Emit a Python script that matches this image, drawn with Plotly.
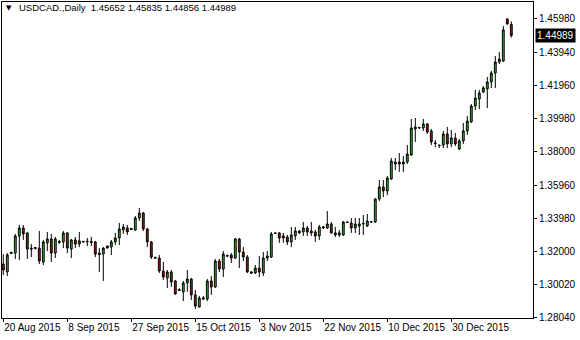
import plotly.graph_objects as go

symbol_title = "USDCAD.,Daily  1.45652 1.45835 1.44856 1.44989"
last_price = 1.44989

date_labels = ["20 Aug 2015", "8 Sep 2015", "27 Sep 2015", "15 Oct 2015",
               "3 Nov 2015", "22 Nov 2015", "10 Dec 2015", "30 Dec 2015"]
date_label_bars = [0, 16, 32, 48, 64, 80, 96, 112]

price_ticks = [1.28040, 1.30020, 1.32000, 1.33980, 1.35960,
               1.38000, 1.39980, 1.41960, 1.43940, 1.45980]
price_tick_text = ["1.28040", "1.30020", "1.32000", "1.33980", "1.35960",
                   "1.38000", "1.39980", "1.41960", "1.43940", "1.45980"]

opens = [1.3123, 1.3075, 1.3186, 1.3189, 1.3292, 1.3340, 1.3310, 1.3219, 1.3216, 1.3219,
         1.3135, 1.3250, 1.3274, 1.3189, 1.3259, 1.3256, 1.3310, 1.3213, 1.3268, 1.3243,
         1.3259, 1.3256, 1.3259, 1.3256, 1.3189, 1.3183, 1.3231, 1.3225, 1.3256, 1.3280,
         1.3328, 1.3340, 1.3331, 1.3328, 1.3400, 1.3430, 1.3334, 1.3256, 1.3162, 1.3159,
         1.3081, 1.3039, 1.3075, 1.3021, 1.2970, 1.2955, 1.3009, 1.3033, 1.2937, 1.2864,
         1.2912, 1.2912, 1.3021, 1.2985, 1.3141, 1.3093, 1.3174, 1.3177, 1.3159, 1.3274,
         1.3195, 1.3165, 1.3075, 1.3069, 1.3099, 1.3069, 1.3159, 1.3165, 1.3310, 1.3310,
         1.3292, 1.3286, 1.3256, 1.3292, 1.3310, 1.3316, 1.3340, 1.3322, 1.3316, 1.3292,
         1.3340, 1.3340, 1.3364, 1.3310, 1.3298, 1.3298, 1.3376, 1.3370, 1.3340, 1.3352,
         1.3364, 1.3352, 1.3379, 1.3376, 1.3514, 1.3587, 1.3563, 1.3635, 1.3725, 1.3737,
         1.3725, 1.3737, 1.3779, 1.3936, 1.3942, 1.3942, 1.3966, 1.3924, 1.3852, 1.3839,
         1.3839, 1.3906, 1.3846, 1.3882, 1.3815, 1.3864, 1.3924, 1.3978, 1.4074, 1.4116,
         1.4158, 1.4177, 1.4219, 1.4273, 1.4339, 1.4345, 1.4598, 1.45652]
highs = [1.3183, 1.3189, 1.3198, 1.3304, 1.3358, 1.3358, 1.3316, 1.3243, 1.3225, 1.3322,
         1.3268, 1.3316, 1.3304, 1.3286, 1.3268, 1.3322, 1.3316, 1.3274, 1.3286, 1.3316,
         1.3262, 1.3280, 1.3286, 1.3262, 1.3219, 1.3225, 1.3234, 1.3268, 1.3310, 1.3370,
         1.3364, 1.3358, 1.3340, 1.3412, 1.3460, 1.3436, 1.3340, 1.3262, 1.3168, 1.3177,
         1.3135, 1.3087, 1.3087, 1.3027, 1.2976, 1.3021, 1.3087, 1.3039, 1.2967, 1.2931,
         1.2931, 1.3033, 1.3051, 1.3153, 1.3153, 1.3201, 1.3180, 1.3189, 1.3280, 1.3280,
         1.3225, 1.3177, 1.3081, 1.3117, 1.3171, 1.3195, 1.3201, 1.3316, 1.3313, 1.3316,
         1.3310, 1.3298, 1.3346, 1.3346, 1.3328, 1.3376, 1.3352, 1.3376, 1.3328, 1.3358,
         1.3352, 1.3442, 1.3376, 1.3346, 1.3328, 1.3382, 1.3382, 1.3400, 1.3400, 1.3400,
         1.3418, 1.3424, 1.3382, 1.3520, 1.3629, 1.3629, 1.3653, 1.3761, 1.3761, 1.3791,
         1.3773, 1.3839, 1.3996, 1.4002, 1.3948, 1.3996, 1.3972, 1.3936, 1.3870, 1.3842,
         1.3924, 1.3948, 1.3930, 1.3912, 1.3876, 1.3972, 1.4014, 1.4086, 1.4171, 1.4171,
         1.4195, 1.4249, 1.4285, 1.4375, 1.4399, 1.4556, 1.4602, 1.45835]
lows = [1.3057, 1.3051, 1.3183, 1.3153, 1.3147, 1.3268, 1.3153, 1.3165, 1.3210, 1.3123,
        1.3117, 1.3201, 1.3135, 1.3159, 1.3244, 1.3219, 1.3189, 1.3159, 1.3219, 1.3225,
        1.3253, 1.3231, 1.3231, 1.3165, 1.3075, 1.3021, 1.3216, 1.3177, 1.3237, 1.3237,
        1.3304, 1.3298, 1.3328, 1.3322, 1.3382, 1.3322, 1.3225, 1.3153, 1.3153, 1.3069,
        1.3027, 1.2979, 1.2985, 1.2937, 1.2961, 1.2900, 1.2955, 1.2906, 1.2852, 1.2861,
        1.2906, 1.2900, 1.2937, 1.2979, 1.3075, 1.3045, 1.3165, 1.3129, 1.3153, 1.3099,
        1.3141, 1.3069, 1.3063, 1.3063, 1.3045, 1.3051, 1.3141, 1.3159, 1.3304, 1.3250,
        1.3250, 1.3237, 1.3225, 1.3268, 1.3304, 1.3292, 1.3292, 1.3292, 1.3256, 1.3268,
        1.3334, 1.3334, 1.3304, 1.3286, 1.3286, 1.3292, 1.3370, 1.3310, 1.3310, 1.3298,
        1.3298, 1.3346, 1.3370, 1.3370, 1.3502, 1.3526, 1.3538, 1.3629, 1.3689, 1.3677,
        1.3677, 1.3725, 1.3773, 1.3858, 1.3936, 1.3924, 1.3906, 1.3839, 1.3827, 1.3821,
        1.3821, 1.3821, 1.3827, 1.3833, 1.3809, 1.3846, 1.3900, 1.3972, 1.4050, 1.4056,
        1.4152, 1.4062, 1.4183, 1.4183, 1.4327, 1.4339, 1.4565, 1.44856]
closes = [1.3087, 1.3177, 1.3192, 1.3292, 1.3340, 1.3304, 1.3213, 1.3213, 1.3222, 1.3141,
          1.3256, 1.3274, 1.3189, 1.3274, 1.3253, 1.3310, 1.3219, 1.3268, 1.3243, 1.3262,
          1.3256, 1.3259, 1.3253, 1.3183, 1.3180, 1.3219, 1.3219, 1.3256, 1.3280, 1.3334,
          1.3346, 1.3316, 1.3337, 1.3400, 1.3430, 1.3334, 1.3256, 1.3165, 1.3159, 1.3081,
          1.3045, 1.3075, 1.3015, 1.2943, 1.2964, 1.3009, 1.3033, 1.2937, 1.2870, 1.2918,
          1.2918, 1.3021, 1.2985, 1.3141, 1.3093, 1.3183, 1.3171, 1.3159, 1.3274, 1.3195,
          1.3165, 1.3075, 1.3069, 1.3099, 1.3075, 1.3159, 1.3171, 1.3304, 1.3307, 1.3280,
          1.3280, 1.3256, 1.3298, 1.3322, 1.3322, 1.3340, 1.3316, 1.3310, 1.3292, 1.3346,
          1.3346, 1.3364, 1.3310, 1.3298, 1.3310, 1.3376, 1.3373, 1.3340, 1.3364, 1.3364,
          1.3367, 1.3382, 1.3376, 1.3514, 1.3587, 1.3563, 1.3641, 1.3743, 1.3737, 1.3725,
          1.3737, 1.3785, 1.3942, 1.3948, 1.3945, 1.3966, 1.3918, 1.3858, 1.3849, 1.3836,
          1.3906, 1.3846, 1.3882, 1.3846, 1.3864, 1.3924, 1.3984, 1.4074, 1.4122, 1.4152,
          1.4183, 1.4219, 1.4273, 1.4339, 1.4357, 1.4532, 1.4568, 1.44989]

bars = list(range(len(opens)))

FONT = "Liberation Sans"

fig = go.Figure()
fig.add_trace(go.Candlestick(
    x=bars, open=opens, high=highs, low=lows, close=closes,
    increasing=dict(line=dict(color="black", width=1), fillcolor="#22c322"),
    decreasing=dict(line=dict(color="black", width=1), fillcolor="#e00000"),
    whiskerwidth=0, hoverinfo="skip",
))

fig.update_layout(
    width=580, height=340,
    margin=dict(l=2, r=47, t=2, b=22),
    paper_bgcolor="white", plot_bgcolor="white",
    showlegend=False,
    boxgap=0.35,
    font=dict(family=FONT, size=10, color="black"),
    xaxis=dict(
        rangeslider=dict(visible=False),
        range=[-0.325, 132.425],
        tickmode="array", tickvals=date_label_bars, ticktext=date_labels,
        tickangle=0,
        ticks="outside", ticklen=3, tickcolor="black", tickwidth=1,
        ticklabelposition="outside right",
        showline=True, linecolor="black", linewidth=1, mirror=True,
        showgrid=False, zeroline=False,
        tickfont=dict(family=FONT, size=10, color="black"),
    ),
    yaxis=dict(
        side="right",
        range=[1.2798, 1.47003],
        tickmode="array", tickvals=price_ticks, ticktext=price_tick_text,
        ticks="outside", ticklen=3, tickcolor="black", tickwidth=1,
        showline=True, linecolor="black", linewidth=1, mirror=True,
        showgrid=False, zeroline=False,
        tickfont=dict(family=FONT, size=10, color="black"),
    ),
)

fig.add_annotation(
    xref="paper", yref="paper", x=0.004, y=0.982, xanchor="left", yanchor="middle",
    text="▼", showarrow=False, font=dict(family="DejaVu Sans", size=7, color="black"),
)
fig.add_annotation(
    xref="paper", yref="paper", x=0.028, y=0.982, xanchor="left", yanchor="middle",
    text=symbol_title, showarrow=False, font=dict(family=FONT, size=9.5, color="black"),
)
fig.add_annotation(
    xref="paper", yref="y", x=1.004, y=last_price, xanchor="left", yanchor="middle",
    text=f"{last_price:.5f}", showarrow=False,
    bgcolor="black", borderpad=1,
    font=dict(family=FONT, size=10, color="white"),
)

fig.write_html("out.html")
